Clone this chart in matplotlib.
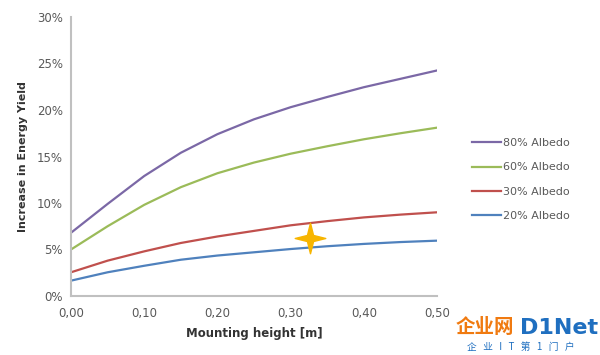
import numpy as np
import matplotlib.pyplot as plt
from matplotlib.path import Path
from matplotlib.ticker import FuncFormatter

# Datos
altura = [0.00, 0.05, 0.10, 0.15, 0.20, 0.25, 0.30, 0.35, 0.40, 0.45, 0.50]
albedo_80 = [6.8, 9.9, 12.9, 15.4, 17.4, 19.0, 20.3, 21.4, 22.45, 23.35, 24.25]
albedo_60 = [5.0, 7.5, 9.8, 11.7, 13.2, 14.35, 15.3, 16.1, 16.85, 17.5, 18.1]
albedo_30 = [2.55, 3.8, 4.8, 5.7, 6.4, 7.0, 7.6, 8.05, 8.45, 8.75, 9.0]
albedo_20 = [1.65, 2.55, 3.25, 3.9, 4.35, 4.7, 5.05, 5.35, 5.6, 5.8, 5.95]

series = [
    ('80% Albedo', albedo_80, '#7b68a6'),
    ('60% Albedo', albedo_60, '#9bbb59'),
    ('30% Albedo', albedo_30, '#c0504d'),
    ('20% Albedo', albedo_20, '#4f81bd'),
]

# Marca en forma de estrella
estrella_x = [0.327]
estrella_y = [6.2]

gris = '#595959'

fig = plt.figure(figsize=(6, 3.55), dpi=100)
ax = fig.add_axes([71/600, 1 - 296/355, 366/600, 279/355])

for nombre, valores, color in series:
    ax.plot(altura, valores, color=color, lw=1.6, label=nombre)

# estrella de cuatro puntas
v = [(0, 1), (0.2, 0.2), (1, 0), (0.2, -0.2), (0, -1), (-0.2, -0.2),
     (-1, 0), (-0.2, 0.2), (0, 1)]
estrella = Path(v, [Path.MOVETO] + [Path.LINETO] * 7 + [Path.CLOSEPOLY])
ax.plot(estrella_x, estrella_y, marker=estrella, ms=22, color='#f7b500',
        mec='#f7b500', ls='none')

ax.set_xlim(0, 0.5)
ax.set_ylim(0, 30)
ax.set_xticks(np.arange(0, 0.51, 0.1))
ax.set_yticks(np.arange(0, 31, 5))
ax.xaxis.set_major_formatter(FuncFormatter(lambda x, p: f'{x:.2f}'.replace('.', ',')))
ax.yaxis.set_major_formatter(FuncFormatter(lambda y, p: f'{y:.0f}%'))
ax.tick_params(length=0, labelsize=8.5, colors=gris, pad=8)
ax.tick_params(axis='y', pad=6)

for lado in ['top', 'right']:
    ax.spines[lado].set_visible(False)
for lado in ['left', 'bottom']:
    ax.spines[lado].set_color('#c0c0c0')
    ax.spines[lado].set_linewidth(1.5)

ax.set_xlabel('Mounting height [m]', fontsize=8.5, fontweight='bold', color='#333333', labelpad=5)
ax.set_ylabel('Increase in Energy Yield', fontsize=8, fontweight='bold', color='#333333', labelpad=6)

fig.legend(loc='upper left', bbox_to_anchor=(462/600, 1 - 128/355), frameon=False,
           fontsize=8, handlelength=2.6, labelspacing=1.3, handletextpad=0.2,
           labelcolor=gris)

# marca de agua
fig.text(0.857, 0.077, '企业网', fontsize=14, fontweight='bold', color='#f07a10',
         ha='right', va='center', family=['Noto Sans CJK SC', 'DejaVu Sans'])
fig.text(0.997, 0.077, 'D1Net', fontsize=16, fontweight='bold', color='#1f6fc0',
         ha='right', va='center')
fig.text(0.868, 0.022, '企   业   I   T   第   1   门   户', fontsize=7, color='#1f6fc0',
         ha='center', va='center', family=['Noto Sans CJK SC', 'DejaVu Sans'])

fig.savefig('out.png')
